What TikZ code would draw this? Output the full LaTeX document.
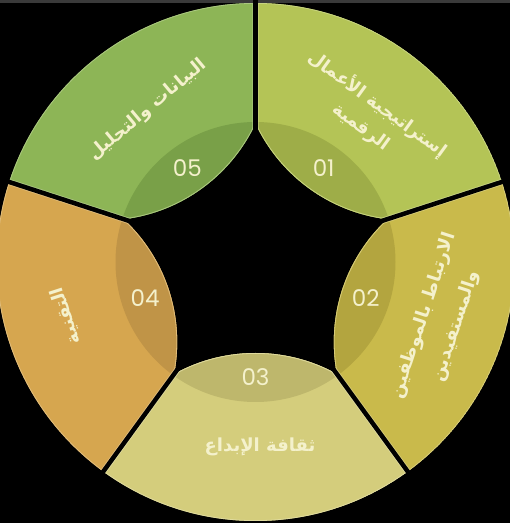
\documentclass[tikz,border=0pt]{standalone}
\usepackage{fontspec}
\usetikzlibrary{calc}
\TeXXeTstate=1
\newfontfamily\arabicfont[Script=Arabic]{DejaVu Sans}
\newfontfamily\numfont{Poppins}
\definecolor{segA}{HTML}{B4C456}
\definecolor{darkA}{HTML}{9EAD48}
\definecolor{segB}{HTML}{C9BA4B}
\definecolor{darkB}{HTML}{B3A53F}
\definecolor{segC}{HTML}{D4CD7C}
\definecolor{darkC}{HTML}{BEB76C}
\definecolor{segD}{HTML}{D6A64F}
\definecolor{darkD}{HTML}{C09447}
\definecolor{segE}{HTML}{8DB556}
\definecolor{darkE}{HTML}{79A048}
\definecolor{txtc}{HTML}{F4F1CC}
\definecolor{topband}{HTML}{3A3A3A}
\newcommand\mypetal[3]{%
  \begin{scope}
    \clip (C) circle (259);
    \clip (C) -- ($(C)+(#1-36:400)$) -- ($(C)+(#1:600)$) -- ($(C)+(#1+36:400)$) -- cycle;
    \clip ($(C)+(#1:259)$) circle (168);
    \fill[#2] (C) circle (259);
    \fill[#3] (C) circle (140);
    \draw[#2!75!white, line width=1.6pt] (C) circle (259) ($(C)+(#1:259)$) circle (168);
    \draw[#2!75!white, line width=6.2pt] ($(C)+(#1-36:400)$) -- (C) -- ($(C)+(#1+36:400)$);
  \end{scope}}
\begin{document}
\begin{tikzpicture}[x=1pt,y=1pt,
  lbl/.style={text=txtc, font=\arabicfont\bfseries\fontsize{18}{28}\selectfont, align=center},
  num/.style={text=txtc, font=\numfont\fontsize{23}{23}\selectfont},
  gap/.style={line width=4.5pt, black}]
\useasboundingbox (0,0) rectangle (510,523);
\fill[black] (0,0) rectangle (510,523);
\fill[topband] (0,520) rectangle (510,523);
\coordinate (C) at (255.5,261);
\mypetal{54}{segA}{darkA}
\mypetal{-18}{segB}{darkB}
\mypetal{-90}{segC}{darkC}
\mypetal{198}{segD}{darkD}
\mypetal{126}{segE}{darkE}
\foreach \a in {90,18,-54,-126,162} \draw[gap] (C) -- ($(C)+(\a:268)$);
\node[num] (n01) at ($(C)+(54:116)$) {01};
\node[num] (n02) at ($(C)+(-18:116)$) {02};
\node[num] (n03) at ($(C)+(-90:115)$) {03};
\node[num] (n04) at ($(C)+(198:116)$) {04};
\node[num] (n05) at ($(C)+(126:116)$) {05};
\node[lbl, rotate=-36] (t01) at (370,408) {\beginR إستراتيجية الأعمال\endR\\\beginR الرقمية\endR};
\node[lbl, rotate=72, font=\arabicfont\bfseries\fontsize{18}{34}\selectfont] (t02) at (440,202) {\beginR الارتباط بالموظفين\endR\\\beginR والمستفيدين\endR};
\node[lbl] (t03) at (260,76) {\beginR ثقافة الإبداع\endR};
\node[lbl, rotate=108] (t04) at (66,207) {\beginR التقنية\endR};
\node[lbl, rotate=40] (t05) at (148,413) {\beginR البيانات والتحليل\endR};
\end{tikzpicture}
\end{document}
